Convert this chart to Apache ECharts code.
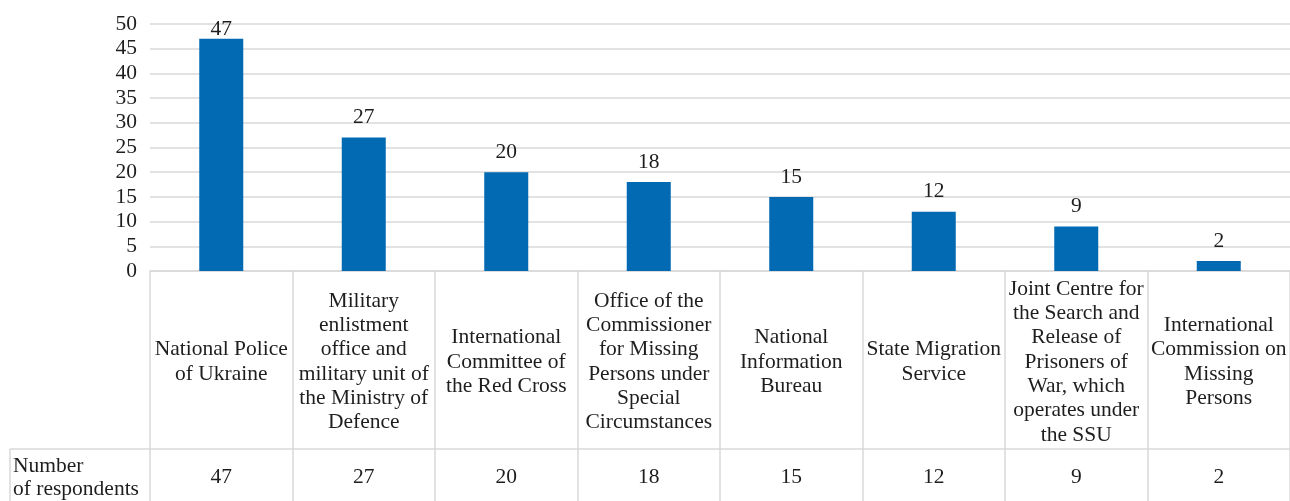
<!DOCTYPE html>
<html>
<head>
<meta charset="utf-8">
<script src="https://cdn.jsdelivr.net/npm/echarts@6/dist/echarts.min.js"></script>
<style>html,body{margin:0;padding:0;background:#fff}#c{width:1290px;height:501px}</style>
</head>
<body>
<div id="c"></div>
<script>
const categories = [
  'National Police\nof Ukraine',
  'Military\nenlistment\noffice and\nmilitary unit of\nthe Ministry of\nDefence',
  'International\nCommittee of\nthe Red Cross',
  'Office of the\nCommissioner\nfor Missing\nPersons under\nSpecial\nCircumstances',
  'National\nInformation\nBureau',
  'State Migration\nService',
  'Joint Centre for\nthe Search and\nRelease of\nPrisoners of\nWar, which\noperates under\nthe SSU',
  'International\nCommission on\nMissing\nPersons'
];
const respondents = [47, 27, 20, 18, 15, 12, 9, 2];
const rowLabel = 'Number\nof respondents';
const yTicks = [0, 5, 10, 15, 20, 25, 30, 35, 40, 45, 50];

const FONT = 'Liberation Serif';
const FS = 21.5;
const GRID = '#d9d9d9';
const TXT = '#1e1e1e';

// labels of bars near the top of the plot are pulled down to stay inside it
const barData = respondents.map(v => v > 45 ? {value: v, label: {distance: -2}} : v);

const chart = echarts.init(document.getElementById('c'), null, {renderer: 'canvas'});
chart.setOption({
  animation: false,
  textStyle: {fontFamily: FONT},
  grid: {left: 150, right: 0, top: 24, bottom: 230, containLabel: false},
  xAxis: [
    {
      type: 'category',
      data: categories,
      boundaryGap: true,
      axisLine: {show: true, lineStyle: {color: GRID, width: 1.5}},
      axisTick: {show: true, length: 230, lineStyle: {color: GRID, width: 1.5}},
      axisLabel: {
        interval: 0, margin: 91, verticalAlign: 'middle', align: 'center',
        fontFamily: FONT, fontSize: FS, lineHeight: 24.3, color: TXT
      }
    },
    {
      type: 'category',
      data: categories,
      position: 'bottom',
      offset: 178,
      axisLine: {show: true, lineStyle: {color: GRID, width: 1.5}},
      axisTick: {show: false},
      axisLabel: {
        interval: 0, margin: 28, verticalAlign: 'middle', align: 'center',
        fontFamily: FONT, fontSize: FS, color: TXT,
        formatter: (v, i) => String(respondents[i])
      }
    }
  ],
  yAxis: {
    type: 'value',
    min: yTicks[0], max: yTicks[yTicks.length - 1], interval: 5,
    axisLine: {show: false},
    axisTick: {show: false},
    splitLine: {lineStyle: {color: GRID, width: 1.5}},
    axisLabel: {margin: 13, fontFamily: FONT, fontSize: FS, color: TXT}
  },
  series: [{
    type: 'bar',
    xAxisIndex: 0,
    data: barData,
    barWidth: 44,
    itemStyle: {color: '#0269b3'},
    label: {
      show: true, position: 'top', distance: 9,
      fontFamily: FONT, fontSize: FS, color: TXT
    }
  }],
  graphic: [
    {type: 'line', shape: {x1: 10, y1: 449, x2: 150, y2: 449}, style: {stroke: GRID, lineWidth: 1.5}},
    {type: 'line', shape: {x1: 10, y1: 449, x2: 10, y2: 501}, style: {stroke: GRID, lineWidth: 1.5}},
    {type: 'text', left: 13, top: 455, style: {text: rowLabel, fontFamily: FONT, fontSize: FS, lineHeight: 23, fill: TXT}}
  ]
});
</script>
</body>
</html>
